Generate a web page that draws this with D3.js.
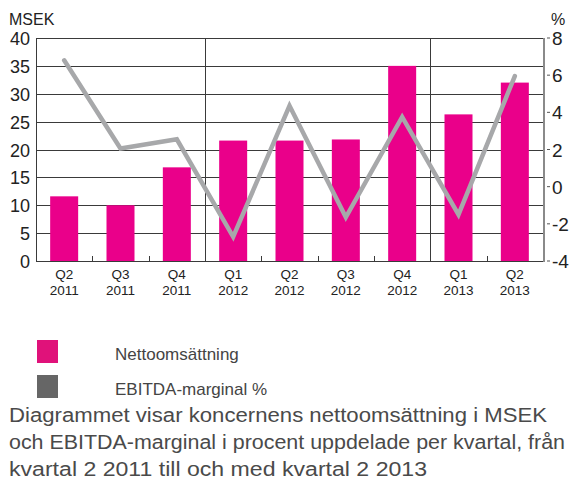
<!DOCTYPE html>
<html>
<head>
<meta charset="utf-8">
<script src="https://cdn.jsdelivr.net/npm/d3@7"></script>
<style>
  body { margin: 0; background: #fff; }
  svg text { font-family: "Liberation Sans", Arial, sans-serif; fill: #222; }
</style>
</head>
<body>
<svg id="chart" width="576" height="485"></svg>
<script>
// quarters and years
var quarters = ["Q2", "Q3", "Q4", "Q1", "Q2", "Q3", "Q4", "Q1", "Q2"];
var years = ["2011", "2011", "2011", "2012", "2012", "2012", "2012", "2013", "2013"];
// Nettoomsättning, MSEK
var sales = [11.6, 10.0, 16.8, 21.6, 21.6, 21.8, 35.0, 26.3, 32.0];
// EBITDA-marginal %
var margin_pct = [6.8, 2.05, 2.55, -2.7, 4.35, -1.65, 3.75, -1.5, 5.95];
var leftTicks = [0, 5, 10, 15, 20, 25, 30, 35, 40];
var rightTicks = [-4, -2, 0, 2, 4, 6, 8];
var legendItems = ["Nettoomsättning", "EBITDA-marginal %"];
var legendColors = ["#e0127a", "#666666"];
var descLines = [
    "Diagrammet visar koncernens nettoomsättning i MSEK",
    "och EBITDA-marginal i procent uppdelade per kvartal, från",
    "kvartal 2 2011 till och med kvartal 2 2013"
];
var descWidths = [538, 556, 418];

var svg = d3.select("#chart");
var plot = { left: 36, right: 543, top: 38, bottom: 261 };

var idx = d3.range(quarters.length);
var xScale = d3.scaleBand().domain(idx).range([plot.left, plot.right]).paddingInner(0).paddingOuter(0);
var yLeft = d3.scaleLinear().domain([0, 40]).range([plot.bottom, plot.top]);
var yRight = d3.scaleLinear().domain([-4, 8]).range([plot.bottom, plot.top]);

// horizontal gridlines
svg.append("g").selectAll("line")
    .data(leftTicks)
    .join("line")
    .attr("x1", plot.left).attr("x2", plot.right)
    .attr("y1", d => Math.round(yLeft(d)) + 0.5).attr("y2", d => Math.round(yLeft(d)) + 0.5)
    .attr("stroke", "#3a3a3a").attr("stroke-width", 1);

// year separators
var separators = [3, 7];
svg.append("g").selectAll("line")
    .data(separators)
    .join("line")
    .attr("x1", d => Math.round(xScale(d)) + 0.5).attr("x2", d => Math.round(xScale(d)) + 0.5)
    .attr("y1", plot.top).attr("y2", plot.bottom)
    .attr("stroke", "#3a3a3a").attr("stroke-width", 1);

// left frame
svg.append("line")
    .attr("x1", plot.left + 0.5).attr("x2", plot.left + 0.5)
    .attr("y1", plot.top).attr("y2", plot.bottom + 0.5)
    .attr("stroke", "#3a3a3a");

// small tick marks at band boundaries
svg.append("g").selectAll("line")
    .data(d3.range(1, quarters.length))
    .join("line")
    .attr("x1", d => Math.round(xScale(d)) + 0.5).attr("x2", d => Math.round(xScale(d)) + 0.5)
    .attr("y1", plot.bottom - 5).attr("y2", plot.bottom)
    .attr("stroke", "#3a3a3a");

// bars
var barW = 28;
svg.append("g").selectAll("rect")
    .data(sales)
    .join("rect")
    .attr("x", (d, i) => xScale(i) + xScale.bandwidth() / 2 - barW / 2)
    .attr("width", barW)
    .attr("y", d => yLeft(d))
    .attr("height", d => yLeft(0) - yLeft(d))
    .attr("fill", "#ea008a");

// bottom axis line over bars
svg.append("line")
    .attr("x1", plot.left).attr("x2", plot.right)
    .attr("y1", plot.bottom + 0.5).attr("y2", plot.bottom + 0.5)
    .attr("stroke", "#3a3a3a");

// EBITDA line
var line = d3.line()
    .x((d, i) => xScale(i) + xScale.bandwidth() / 2)
    .y(d => yRight(d));
svg.append("path")
    .datum(margin_pct)
    .attr("d", line)
    .attr("fill", "none")
    .attr("stroke", "#a7a8aa")
    .attr("stroke-width", 4.5)
    .attr("stroke-linejoin", "miter")
    .attr("stroke-linecap", "round");

// right axis
svg.append("line")
    .attr("x1", plot.right + 1).attr("x2", plot.right + 1)
    .attr("y1", plot.top).attr("y2", plot.bottom + 1)
    .attr("stroke", "#8a8a8a").attr("stroke-width", 2);
svg.append("g").selectAll("line")
    .data(rightTicks)
    .join("line")
    .attr("x1", plot.right + 4).attr("x2", plot.right + 7)
    .attr("y1", d => yRight(d)).attr("y2", d => yRight(d))
    .attr("stroke", "#555");
svg.append("g").selectAll("text")
    .data(rightTicks)
    .join("text")
    .attr("x", plot.right + 9)
    .attr("y", d => yRight(d) + 7)
    .attr("font-size", 19)
    .text(d => d < 0 ? "-" + Math.abs(d) : d);

// left axis labels
svg.append("g").selectAll("text")
    .data(leftTicks)
    .join("text")
    .attr("x", 30)
    .attr("y", d => yLeft(d) + 7)
    .attr("text-anchor", "end")
    .attr("font-size", 18)
    .text(d => d);

svg.append("text").attr("x", 9).attr("y", 25).attr("font-size", 16).text("MSEK");
svg.append("text").attr("x", 551).attr("y", 25).attr("font-size", 16).text("%");

// category labels
var xl = svg.append("g").selectAll("g")
    .data(idx)
    .join("g")
    .attr("transform", d => "translate(" + (xScale(d) + xScale.bandwidth() / 2) + ",0)");
xl.append("text").attr("y", 279).attr("text-anchor", "middle").attr("font-size", 13.5)
    .text(d => quarters[d]);
xl.append("text").attr("y", 295).attr("text-anchor", "middle").attr("font-size", 13.5)
    .text(d => years[d]);

// legend
var lg = svg.append("g").selectAll("g")
    .data(legendItems)
    .join("g")
    .attr("transform", (d, i) => "translate(37," + (340 + i * 35) + ")");
lg.append("rect").attr("width", 21).attr("height", 23).attr("fill", (d, i) => legendColors[i]);
lg.append("text").attr("x", 78).attr("y", 20).attr("font-size", 17).style("fill", "#444").text(d => d);

// description
svg.append("g").selectAll("text")
    .data(descLines)
    .join("text")
    .attr("x", 9)
    .attr("y", (d, i) => 422 + i * 27)
    .attr("font-size", 19.5)
    .attr("textLength", (d, i) => descWidths[i])
    .attr("lengthAdjust", "spacingAndGlyphs")
    .style("fill", "#4a4a4a")
    .text(d => d);
</script>
</body>
</html>
